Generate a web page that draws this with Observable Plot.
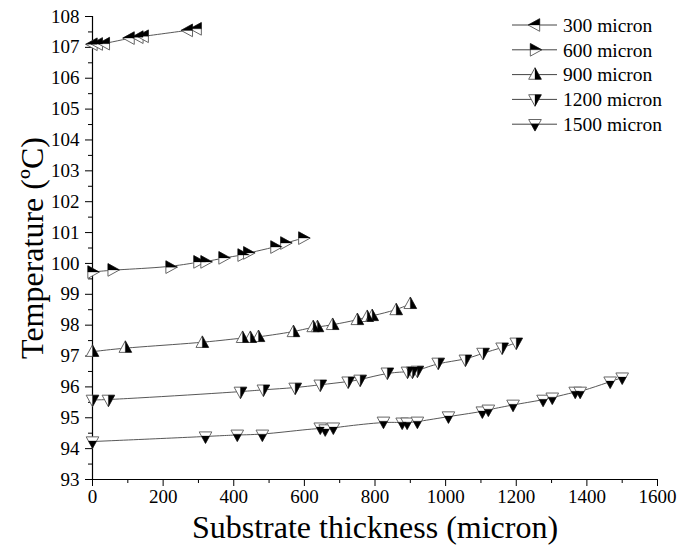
<!DOCTYPE html>
<html>
<head>
<meta charset="utf-8">
<script src="https://cdn.jsdelivr.net/npm/d3@7"></script>
<script src="https://cdn.jsdelivr.net/npm/@observablehq/plot@0.6"></script>
<style>
  body { margin: 0; background: #fff; }
  #chart { position: relative; width: 695px; height: 554px; }
</style>
</head>
<body>
<div id="chart"></div>
<script>
// ---- Data ----
const series = ["300 micron", "600 micron", "900 micron", "1200 micron", "1500 micron"];

const x300 = [0, 15, 35, 105, 130, 145, 270, 295];
const t300 = [107.1, 107.11, 107.12, 107.3, 107.33, 107.36, 107.55, 107.6];

const x600 = [0, 57, 221, 300, 320, 371, 425, 441, 518, 546, 597];
const t600 = [99.72, 99.79, 99.88, 100.05, 100.05, 100.18, 100.27, 100.34, 100.53, 100.66, 100.82];

const x900 = [0, 93, 311, 425, 447, 470, 569, 625, 637, 680, 750, 778, 792, 860, 900];
const t900 = [97.14, 97.27, 97.43, 97.59, 97.59, 97.62, 97.78, 97.94, 97.94, 98.01, 98.17, 98.27, 98.3, 98.49, 98.69];

const x1200 = [0, 45, 419, 484, 574, 645, 724, 758, 835, 892, 906, 920, 979, 1056, 1106, 1160, 1200];
const t1200 = [95.58, 95.58, 95.84, 95.91, 95.97, 96.07, 96.17, 96.23, 96.46, 96.49, 96.49, 96.52, 96.78, 96.88, 97.1, 97.27, 97.43];

const x1500 = [0, 320, 410, 481, 645, 659, 682, 824, 877, 891, 920, 1008, 1104, 1121, 1191, 1276, 1302, 1367, 1381, 1466, 1500];
const t1500 = [94.23, 94.39, 94.45, 94.45, 94.68, 94.62, 94.68, 94.87, 94.84, 94.84, 94.87, 95.04, 95.2, 95.26, 95.42, 95.58, 95.65, 95.84, 95.84, 96.17, 96.3];

const xTicks = [0, 200, 400, 600, 800, 1000, 1200, 1400, 1600];
const xMinor = [100, 300, 500, 700, 900, 1100, 1300, 1500];
const yTicks = [93, 94, 95, 96, 97, 98, 99, 100, 101, 102, 103, 104, 105, 106, 107, 108];
const yMinor = [93.5, 94.5, 95.5, 96.5, 97.5, 98.5, 99.5, 100.5, 101.5, 102.5, 103.5, 104.5, 105.5, 106.5, 107.5];

// ---- Marker symbols ----
function poly(pts) {
  return {
    draw(ctx, size) {
      const r = Math.sqrt(size / Math.PI);
      ctx.moveTo(pts[0][0] * r, pts[0][1] * r);
      for (let i = 1; i < pts.length; i++) ctx.lineTo(pts[i][0] * r, pts[i][1] * r);
      ctx.closePath();
    }
  };
}
const A = 1.25, B = 0.85, W = 1.15;
const sym = [
  { full: poly([[-A,0],[B,-W],[B,W]]), half: poly([[-A,0],[B,-W],[B,0]]) },          // left, top half black
  { full: poly([[A,0],[-B,-W],[-B,W]]), half: poly([[A,0],[-B,-W],[-B,0]]) },          // right, top half black
  { full: poly([[0,-A],[-W,B],[W,B]]), half: poly([[0,-A],[W,B],[0,B]]) },            // up, right half black
  { full: poly([[0,A],[-W,-B],[W,-B]]), half: poly([[0,A],[W,-B],[0,-B]]) },           // down, right half black
  { full: poly([[0,A],[-W,-B],[W,-B]]), half: poly([[0,A],[-0.74,-0.1],[0.74,-0.1]]) } // down, bottom black
];

const xs = [x300, x600, x900, x1200, x1500];
const ts = [t300, t600, t900, t1200, t1500];
const tables = xs.map((xa, i) => xa.map((x, j) => ({x, t: ts[i][j], s: series[i]})));

const R = 5.5;
const marks = [];
tables.forEach((tab, i) => {
  marks.push(Plot.line(tab, {x: "x", y: "t", stroke: "#444", strokeWidth: 0.9, curve: "basis"}));
});
tables.forEach((tab, i) => {
  marks.push(Plot.dot(tab, {x: "x", y: "t", symbol: sym[i].full, r: R, fill: "white", stroke: "#666", strokeWidth: 1}));
  marks.push(Plot.dot(tab, {x: "x", y: "t", symbol: sym[i].half, r: R, fill: "black", stroke: "black", strokeWidth: 0.3}));
});

const plot = Plot.plot({
  width: 695,
  height: 554,
  marginLeft: 92,
  marginRight: 38,
  marginTop: 16,
  marginBottom: 75,
  style: { fontFamily: "Liberation Serif", fontSize: "19px", color: "black", background: "white" },
  x: { domain: [0, 1600] },
  y: { domain: [93, 108] },
  marks: [
    Plot.axisX({ticks: xTicks, tickSize: 7, tickPadding: 3, label: null, tickFormat: d => String(d)}),
    Plot.axisX({ticks: xMinor, tickSize: 4, text: null, label: null}),
    Plot.axisY({ticks: yTicks, tickSize: 7, tickPadding: 6, label: null, tickFormat: d => String(d)}),
    Plot.axisY({ticks: yMinor, tickSize: 4, text: null, label: null}),
    Plot.ruleX([0], {stroke: "black", strokeWidth: 1.2}),
    Plot.ruleY([93], {stroke: "black", strokeWidth: 1.2}),
    ...marks,
    Plot.text(["Substrate thickness (micron)"], {frameAnchor: "bottom", dy: 48, lineAnchor: "middle", fontSize: 32, fill: "black"}),
    Plot.text(["Temperature (ºC)"], {frameAnchor: "left", dx: -60, rotate: -90, lineAnchor: "middle", textAnchor: "middle", fontSize: 32, fill: "black"})
  ]
});

document.getElementById("chart").appendChild(plot);

// ---- Legend (inside the frame, top right) ----
const svg = d3.select(plot);
const lg = svg.append("g").attr("font-family", "Liberation Serif").attr("font-size", 19.5).attr("text-anchor", "start");
series.forEach((name, i) => {
  const y = 25 + i * 24.8;
  const g = lg.append("g").attr("transform", `translate(0,${y})`);
  g.append("line").attr("x1", 512).attr("x2", 557).attr("y1", 0).attr("y2", 0).attr("stroke", "#444").attr("stroke-width", 1);
  g.append("path").attr("transform", "translate(535,0)")
    .attr("d", d3.symbol(sym[i].full, Math.PI * R * R)()).attr("fill", "white").attr("stroke", "#666");
  g.append("path").attr("transform", "translate(535,0)")
    .attr("d", d3.symbol(sym[i].half, Math.PI * R * R)()).attr("fill", "black").attr("stroke", "black").attr("stroke-width", 0.3);
  g.append("text").attr("x", 563).attr("y", 0).attr("dy", "0.35em").attr("fill", "black").attr("text-anchor", "start").text(name);
});
</script>
</body>
</html>
